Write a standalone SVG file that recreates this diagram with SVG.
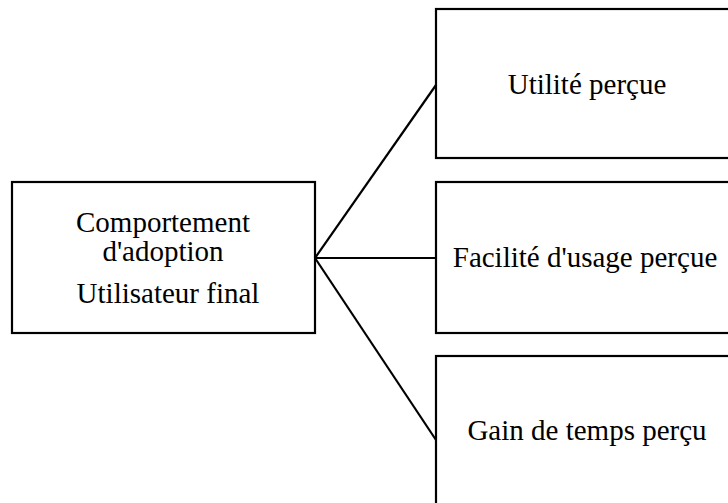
<svg xmlns="http://www.w3.org/2000/svg" width="728" height="503" viewBox="0 0 728 503">
  <style>
    .box { fill: #ffffff; stroke: #000000; stroke-width: 2.2; }
    .link { stroke: #000000; stroke-width: 2.2; fill: none; }
    .label { font-family: "Liberation Serif", "Times New Roman", serif; font-size: 29px; fill: #000000; text-anchor: middle; }
  </style>
  <rect width="728" height="503" fill="#ffffff"/>

  <!-- connectors fanning out from the central box -->
  <g id="connectors">
    <line class="link" x1="315" y1="258" x2="436" y2="85"/>
    <line class="link" x1="315" y1="258" x2="436" y2="258"/>
    <line class="link" x1="315" y1="258" x2="436" y2="440"/>
  </g>

  <g id="node-adoption">
    <rect class="box" x="12" y="182" width="303" height="151"/>
    <text class="label" x="163" y="232">Comportement</text>
    <text class="label" x="163" y="261">d'adoption</text>
    <text class="label" x="168" y="303">Utilisateur final</text>
  </g>

  <g id="node-utilite">
    <rect class="box" x="436" y="9" width="310" height="149"/>
    <text class="label" x="587" y="94">Utilité perçue</text>
  </g>

  <g id="node-facilite">
    <rect class="box" x="436" y="182" width="310" height="151"/>
    <text class="label" x="585" y="267">Facilité d'usage perçue</text>
  </g>

  <g id="node-gain">
    <rect class="box" x="436" y="356" width="310" height="160"/>
    <text class="label" x="587" y="440">Gain de temps perçu</text>
  </g>
</svg>
